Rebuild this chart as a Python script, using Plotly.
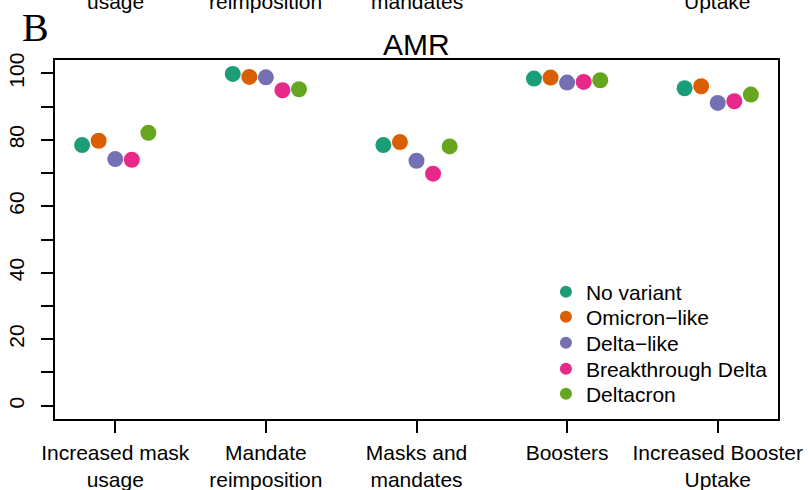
import plotly.graph_objects as go

# interventions (x categories) and outcome per variant scenario
categories = ["Increased mask<br>usage", "Mandate<br>reimposition", "Masks and<br>mandates",
              "Boosters", "Increased Booster<br>Uptake"]
# second lines of the previous panel's labels, cut off at the top of the picture
prev_panel_labels = ["usage", "reimposition", "mandates", "", "Uptake"]

variants = ["No variant", "Omicron\u2212like", "Delta\u2212like", "Breakthrough Delta", "Deltacron"]
no_variant = [78.4, 99.8, 78.4, 98.4, 95.5]
omicron_like = [79.7, 98.9, 79.3, 98.7, 96.1]
delta_like = [74.2, 98.8, 73.7, 97.2, 91.1]
breakthrough_delta = [74.0, 94.9, 69.8, 97.4, 91.6]
deltacron = [82.1, 95.2, 78.0, 97.9, 93.6]

y_ticks = [0, 10, 20, 30, 40, 50, 60, 70, 80, 90, 100]

series = [no_variant, omicron_like, delta_like, breakthrough_delta, deltacron]
colors = ['#1B9E77', '#D95F02', '#7570B3', '#E7298A', '#66A61E']
dodge = [-0.22, -0.11, 0, 0.11, 0.22]

FONT = 'Liberation Sans, Arial, sans-serif'
H, T, B = 490, 60, 71
plot_h = H - T - B

legend_ids = ['legend', 'legend2', 'legend3', 'legend4', 'legend5']
legend_px = [292, 317, 343, 369, 394]   # item centres in the reference, px from top

fig = go.Figure()
for name, vals, col, dx, lid in zip(variants, series, colors, dodge, legend_ids):
    fig.add_trace(go.Scatter(
        x=[i + 1 + dx for i in range(len(vals))], y=vals,
        mode='markers', name=name, legend=lid,
        marker=dict(color=col, size=16, line=dict(width=0)),
    ))

axis_style = dict(
    showline=True, mirror=True, linecolor='black', linewidth=1.6,
    showgrid=False, zeroline=False, automargin=False,
    ticks='outside', ticklen=12, tickwidth=1.6, tickcolor='black',
    tickfont=dict(family=FONT, size=21, color='black'),
)

legends = {}
for lid, py in zip(legend_ids, legend_px):
    legends[lid] = dict(x=0.679, y=(H - B - py) / plot_h, xanchor='left', yanchor='middle',
                        bgcolor='rgba(0,0,0,0)', borderwidth=0,
                        font=dict(family=FONT, size=21, color='black'),
                        itemsizing='constant')

fig.update_layout(
    width=809, height=H,
    margin=dict(l=55, r=31, t=T, b=B, autoexpand=False),
    plot_bgcolor='white', paper_bgcolor='white',
    xaxis=dict(axis_style, range=[0.6, 5.4], ticklabelstandoff=2,
               tickmode='array', tickvals=list(range(1, len(categories) + 1)),
               ticktext=categories),
    yaxis=dict(axis_style, range=[-4, 104], tickangle=-90, ticklabelstandoff=9,
               tickmode='array', tickvals=y_ticks,
               ticktext=[str(v) if v % 20 == 0 else '' for v in y_ticks]),
    showlegend=True,
    **legends,
)

fig.add_annotation(text='AMR', xref='paper', yref='paper', x=0.5, y=1 - 3 / plot_h,
                   xanchor='center', yanchor='bottom', showarrow=False,
                   font=dict(family=FONT, size=30, color='black'))
fig.add_annotation(text='B', xref='paper', yref='paper', x=-0.049, y=1 + 8 / plot_h,
                   xanchor='left', yanchor='bottom', showarrow=False,
                   font=dict(family='Liberation Serif, Times New Roman, serif', size=40, color='black'))

for i, lab in enumerate(prev_panel_labels):
    if lab:
        fig.add_annotation(text=lab, xref='x', yref='paper', x=i + 1, y=1 + 45 / plot_h,
                           xanchor='center', yanchor='bottom', showarrow=False,
                           font=dict(family=FONT, size=21, color='black'))

# drop the page's default body margin so the figure sits at the window corner
fig.write_html("out.html", config={'displayModeBar': False},
               post_script="document.body.style.margin='0';")
